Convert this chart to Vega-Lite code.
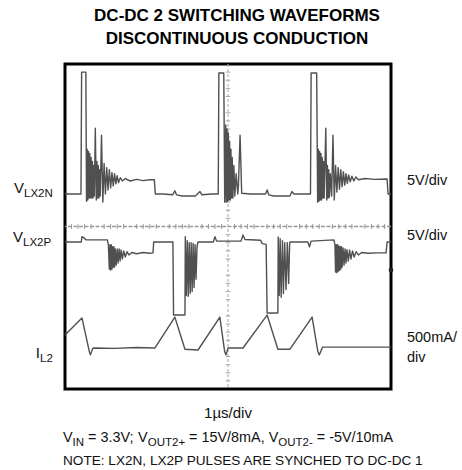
{
  "$schema": "https://vega.github.io/schema/vega-lite/v6.json",
  "width": 326,
  "height": 325,
  "autosize": {"type": "none"},
  "padding": {"left": 65, "top": 64, "right": 71, "bottom": 81},
  "background": "white",
  "title": {
    "text": ["DC-DC 2 SWITCHING WAVEFORMS", "DISCONTINUOUS CONDUCTION"],
    "font": "Liberation Sans",
    "fontSize": 17,
    "fontWeight": "bold",
    "color": "black",
    "anchor": "middle",
    "dx": 9,
    "offset": 15,
    "lineHeight": 23
  },
  "config": {
    "view": {"stroke": "black", "strokeWidth": 3},
    "text": {"font": "Liberation Sans", "color": "#111", "baseline": "alphabetic"}
  },
  "datasets": {
    "lx2n": [
      {"t":0,"v":4.8},{"t":0.49,"v":4.8},{"t":0.51,"v":7.8},{"t":0.64,"v":7.8},{"t":0.66,"v":4.62},
      {"t":0.68,"v":5.9},{"t":0.70,"v":4.65},{"t":0.72,"v":5.85},{"t":0.74,"v":4.7},{"t":0.76,"v":5.8},{"t":0.78,"v":4.7},{"t":0.80,"v":5.7},{"t":0.82,"v":4.7},{"t":0.84,"v":5.6},{"t":0.86,"v":4.7},{"t":0.88,"v":5.5},{"t":0.90,"v":4.75},
      {"t":0.93,"v":6.42},{"t":0.96,"v":4.65},
      {"t":0.98,"v":5.6},{"t":1.0,"v":4.7},{"t":1.02,"v":5.5},{"t":1.04,"v":4.7},{"t":1.06,"v":5.4},{"t":1.08,"v":4.75},
      {"t":1.12,"v":6.25},{"t":1.16,"v":4.6},
      {"t":1.20,"v":5.55},{"t":1.24,"v":4.8},{"t":1.28,"v":5.45},{"t":1.32,"v":4.9},{"t":1.36,"v":5.4},{"t":1.40,"v":4.95},{"t":1.44,"v":5.33},{"t":1.48,"v":5.0},{"t":1.52,"v":5.3},{"t":1.56,"v":5.05},{"t":1.60,"v":5.25},{"t":1.64,"v":5.08},{"t":1.70,"v":5.2},{"t":1.76,"v":5.12},{"t":1.85,"v":5.18},{"t":2.0,"v":5.12},{"t":2.2,"v":5.16},{"t":2.4,"v":5.13},{"t":2.6,"v":5.15},{"t":2.74,"v":5.15},{"t":2.77,"v":4.8},
      {"t":3.0,"v":4.8},{"t":3.3,"v":4.78},{"t":3.37,"v":4.88},{"t":3.42,"v":4.78},{"t":3.6,"v":4.75},{"t":4.0,"v":4.75},{"t":4.14,"v":4.86},{"t":4.2,"v":4.78},{"t":4.5,"v":4.8},{"t":4.7,"v":4.8},
      {"t":4.72,"v":7.78},{"t":4.87,"v":7.78},{"t":4.9,"v":4.6},
      {"t":4.93,"v":6.5},{"t":4.95,"v":4.6},{"t":4.97,"v":6.4},{"t":4.99,"v":4.62},{"t":5.01,"v":6.3},{"t":5.03,"v":4.65},{"t":5.05,"v":6.1},{"t":5.07,"v":4.65},{"t":5.09,"v":5.9},{"t":5.11,"v":4.7},{"t":5.13,"v":5.7},{"t":5.15,"v":4.7},{"t":5.18,"v":5.5},{"t":5.21,"v":4.75},{"t":5.25,"v":5.3},{"t":5.3,"v":4.8},{"t":5.32,"v":5.0},{"t":5.37,"v":6.25},{"t":5.42,"v":4.82},
      {"t":5.7,"v":4.8},{"t":6.15,"v":4.8},{"t":6.2,"v":4.9},{"t":6.25,"v":4.78},{"t":6.4,"v":4.75},{"t":6.9,"v":4.75},{"t":6.96,"v":4.86},{"t":7.02,"v":4.8},{"t":7.53,"v":4.8},
      {"t":7.55,"v":7.78},{"t":7.72,"v":7.78},{"t":7.75,"v":4.6},
      {"t":7.77,"v":5.9},{"t":7.79,"v":4.62},{"t":7.81,"v":5.85},{"t":7.83,"v":4.65},{"t":7.85,"v":5.8},{"t":7.87,"v":4.65},{"t":7.89,"v":5.7},{"t":7.91,"v":4.7},{"t":7.93,"v":5.6},{"t":7.95,"v":4.7},{"t":8.0,"v":6.42},{"t":8.03,"v":4.65},{"t":8.05,"v":5.5},{"t":8.07,"v":4.7},{"t":8.09,"v":5.4},{"t":8.11,"v":4.72},{"t":8.14,"v":5.3},{"t":8.18,"v":4.75},{"t":8.22,"v":6.25},{"t":8.26,"v":4.65},
      {"t":8.3,"v":5.5},{"t":8.34,"v":4.85},{"t":8.38,"v":5.45},{"t":8.42,"v":4.92},{"t":8.46,"v":5.4},{"t":8.5,"v":4.98},{"t":8.54,"v":5.35},{"t":8.58,"v":5.02},{"t":8.62,"v":5.3},{"t":8.66,"v":5.06},{"t":8.7,"v":5.27},{"t":8.75,"v":5.1},{"t":8.8,"v":5.24},{"t":8.86,"v":5.12},{"t":8.92,"v":5.22},{"t":9.0,"v":5.15},{"t":9.2,"v":5.18},{"t":9.5,"v":5.16},{"t":9.88,"v":5.17},{"t":9.91,"v":4.8},{"t":10,"v":4.8}
    ],
    "lx2p": [
      {"t":0,"v":3.62},{"t":0.5,"v":3.62},{"t":0.52,"v":3.75},{"t":0.58,"v":3.72},{"t":0.65,"v":3.67},{"t":1.3,"v":3.67},{"t":1.33,"v":3.55},
      {"t":1.36,"v":2.95},{"t":1.38,"v":3.55},{"t":1.40,"v":2.93},{"t":1.42,"v":3.55},{"t":1.44,"v":2.95},{"t":1.46,"v":3.5},{"t":1.48,"v":3.0},{"t":1.50,"v":3.5},{"t":1.52,"v":3.0},{"t":1.54,"v":3.45},{"t":1.57,"v":3.05},{"t":1.60,"v":3.45},{"t":1.63,"v":3.1},{"t":1.66,"v":3.45},{"t":1.69,"v":3.15},{"t":1.72,"v":3.42},{"t":1.76,"v":3.2},{"t":1.80,"v":3.4},{"t":1.85,"v":3.25},{"t":1.90,"v":3.38},{"t":1.96,"v":3.3},{"t":2.05,"v":3.36},{"t":2.2,"v":3.33},{"t":2.4,"v":3.36},{"t":2.6,"v":3.34},{"t":2.70,"v":3.35},{"t":2.72,"v":3.62},
      {"t":3.31,"v":3.62},{"t":3.33,"v":1.82},{"t":3.68,"v":1.82},
      {"t":3.69,"v":3.75},{"t":3.72,"v":2.3},{"t":3.75,"v":3.65},{"t":3.78,"v":2.28},{"t":3.81,"v":3.6},{"t":3.84,"v":2.35},{"t":3.87,"v":3.6},{"t":3.9,"v":2.4},{"t":3.93,"v":3.58},{"t":3.96,"v":2.5},{"t":3.99,"v":3.55},{"t":4.02,"v":2.7},{"t":4.05,"v":3.5},{"t":4.08,"v":3.62},
      {"t":4.55,"v":3.62},{"t":4.6,"v":3.75},{"t":4.65,"v":3.64},{"t":5.4,"v":3.64},{"t":5.46,"v":3.79},{"t":5.52,"v":3.68},{"t":6.0,"v":3.66},{"t":6.05,"v":3.58},{"t":6.17,"v":3.56},{"t":6.2,"v":1.87},{"t":6.53,"v":1.87},
      {"t":6.54,"v":3.74},{"t":6.57,"v":2.3},{"t":6.6,"v":3.7},{"t":6.63,"v":2.26},{"t":6.67,"v":3.65},{"t":6.7,"v":2.35},{"t":6.74,"v":3.6},{"t":6.78,"v":2.45},{"t":6.82,"v":3.6},{"t":6.86,"v":2.6},{"t":6.89,"v":3.55},{"t":6.9,"v":3.62},
      {"t":7.45,"v":3.62},{"t":7.5,"v":3.5},{"t":7.55,"v":3.64},{"t":8.25,"v":3.67},{"t":8.28,"v":3.55},
      {"t":8.30,"v":2.88},{"t":8.32,"v":3.55},{"t":8.34,"v":2.86},{"t":8.36,"v":3.55},{"t":8.38,"v":2.9},{"t":8.40,"v":3.52},{"t":8.42,"v":2.92},{"t":8.44,"v":3.5},{"t":8.46,"v":2.95},{"t":8.48,"v":3.5},{"t":8.50,"v":3.0},{"t":8.53,"v":3.47},{"t":8.56,"v":3.05},{"t":8.59,"v":3.45},{"t":8.62,"v":3.1},{"t":8.65,"v":3.43},{"t":8.69,"v":3.15},{"t":8.73,"v":3.42},{"t":8.77,"v":3.2},{"t":8.82,"v":3.4},{"t":8.87,"v":3.25},{"t":8.93,"v":3.38},{"t":9.0,"v":3.3},{"t":9.1,"v":3.36},{"t":9.3,"v":3.34},{"t":9.6,"v":3.35},{"t":9.85,"v":3.35},{"t":9.88,"v":3.62},{"t":10,"v":3.62}
    ],
    "il2": [
      {"t":0,"v":1.33},{"t":0.52,"v":1.75},{"t":0.75,"v":0.91},{"t":0.78,"v":0.84},{"t":0.85,"v":1.0},{"t":0.9,"v":1.01},{"t":1.5,"v":1.0},{"t":2.2,"v":1.02},{"t":2.76,"v":1.01},{"t":3.37,"v":1.77},{"t":3.68,"v":0.98},{"t":4.08,"v":0.96},{"t":4.75,"v":1.77},{"t":4.9,"v":0.91},{"t":4.94,"v":0.84},{"t":5.0,"v":1.01},{"t":5.46,"v":1.01},{"t":6.2,"v":1.82},{"t":6.53,"v":0.98},{"t":6.9,"v":0.98},{"t":7.58,"v":1.77},{"t":7.76,"v":0.91},{"t":7.8,"v":0.84},{"t":7.9,"v":1.03},{"t":10,"v":1.03}
    ],
    "hticks": [
      {"t":0.2},{"t":0.4},{"t":0.6},{"t":0.8},{"t":1.2},{"t":1.4},{"t":1.6},{"t":1.8},{"t":2.2},{"t":2.4},{"t":2.6},{"t":2.8},{"t":3.2},{"t":3.4},{"t":3.6},{"t":3.8},{"t":4.2},{"t":4.4},{"t":4.6},{"t":4.8},
      {"t":5.2},{"t":5.4},{"t":5.6},{"t":5.8},{"t":6.2},{"t":6.4},{"t":6.6},{"t":6.8},{"t":7.2},{"t":7.4},{"t":7.6},{"t":7.8},{"t":8.2},{"t":8.4},{"t":8.6},{"t":8.8},{"t":9.2},{"t":9.4},{"t":9.6},{"t":9.8}
    ],
    "vticks": [
      {"v":0.2},{"v":0.4},{"v":0.6},{"v":0.8},{"v":1.2},{"v":1.4},{"v":1.6},{"v":1.8},{"v":2.2},{"v":2.4},{"v":2.6},{"v":2.8},{"v":3.2},{"v":3.4},{"v":3.6},{"v":3.8},
      {"v":4.2},{"v":4.4},{"v":4.6},{"v":4.8},{"v":5.2},{"v":5.4},{"v":5.6},{"v":5.8},{"v":6.2},{"v":6.4},{"v":6.6},{"v":6.8},{"v":7.2},{"v":7.4},{"v":7.6},{"v":7.8}
    ],
    "centre": [{"t":5,"v":4}],
    "marker": [{"t":10,"v":2.93}],
    "textRightSide": [
      {"t":10.49,"v":5.02,"text":"5V/div"},
      {"t":10.49,"v":3.67,"text":"5V/div"},
      {"t":10.49,"v":1.16,"text":"500mA/"},
      {"t":10.49,"v":0.66,"text":"div"}
    ],
    "textNote": [
      {"t":-0.06,"v":-1.87,"text":"NOTE: LX2N, LX2P PULSES ARE SYNCHED TO DC-DC 1"}
    ],
    "textCond": [
      {"t":-0.061,"v":-1.305,"text":"V"},
      {"t":0.709,"v":-1.305,"text":"= 3.3V;"},
      {"t":2.242,"v":-1.305,"text":"V"},
      {"t":3.807,"v":-1.305,"text":"= 15V/8mA,"},
      {"t":6.248,"v":-1.305,"text":"V"},
      {"t":7.724,"v":-1.305,"text":"= -5V/10mA"}
    ],
    "textChan": [
      {"t":-1.258,"v":4.82,"text":"V"},
      {"t":-1.288,"v":3.62,"text":"V"},
      {"t":-0.767,"v":0.76,"text":"I"}
    ],
    "textSub": [
      {"t":-1.258,"v":4.82,"text":"LX2N"},
      {"t":-1.288,"v":3.62,"text":"LX2P"},
      {"t":-0.767,"v":0.76,"text":"L2"},
      {"t":0.233,"v":-1.305,"text":"IN"},
      {"t":2.537,"v":-1.305,"text":"OUT2+"},
      {"t":6.543,"v":-1.305,"text":"OUT2-"}
    ],
    "textCenter": [
      {"t":5.0,"v":-0.714,"text":"1µs/div"}
    ]
  },
  "layer": [
    {
      "data": {"name": "hticks"},
      "mark": {"type": "rule", "color": "#999", "strokeWidth": 1},
      "encoding": {
        "x": {"field": "t", "type": "quantitative", "scale": {"domain": [0, 10], "nice": false, "zero": false},
          "axis": {"title": null, "values": [0,1,2,3,4,5,6,7,8,9,10], "grid": true, "gridColor": "#b8b8b8", "gridDash": [2, 3], "gridWidth": 1, "labels": false, "ticks": false, "domain": false}},
        "y": {"datum": 3.94, "type": "quantitative", "scale": {"domain": [0, 8], "nice": false, "zero": false},
          "axis": {"title": null, "values": [0,1,2,3,4,5,6,7,8], "grid": true, "gridColor": "#b8b8b8", "gridDash": [2, 3], "gridWidth": 1, "labels": false, "ticks": false, "domain": false}},
        "y2": {"datum": 4.06}
      }
    },
    {
      "data": {"name": "vticks"},
      "mark": {"type": "rule", "color": "#aaa", "strokeWidth": 1},
      "encoding": {
        "y": {"field": "v", "type": "quantitative", "axis": null},
        "x": {"datum": 4.93, "type": "quantitative", "axis": null},
        "x2": {"datum": 5.07}
      }
    },
    {
      "data": {"name": "centre"},
      "mark": {"type": "rule", "color": "#999", "strokeWidth": 1.4, "strokeDash": [4, 1.5]},
      "encoding": {"y": {"field": "v", "type": "quantitative", "axis": null}}
    },
    {
      "data": {"name": "centre"},
      "mark": {"type": "rule", "color": "#b0b0b0", "strokeWidth": 1.1, "strokeDash": [3, 2]},
      "encoding": {"x": {"field": "t", "type": "quantitative", "axis": null}}
    },
    {
      "data": {"name": "lx2n"},
      "mark": {"type": "line", "color": "#505050", "strokeWidth": 1.4, "strokeJoin": "round"},
      "encoding": {
        "x": {"field": "t", "type": "quantitative", "axis": null},
        "y": {"field": "v", "type": "quantitative", "axis": null}
      }
    },
    {
      "data": {"name": "lx2p"},
      "mark": {"type": "line", "color": "#505050", "strokeWidth": 1.4, "strokeJoin": "round"},
      "encoding": {
        "x": {"field": "t", "type": "quantitative", "axis": null},
        "y": {"field": "v", "type": "quantitative", "axis": null}
      }
    },
    {
      "data": {"name": "il2"},
      "mark": {"type": "line", "color": "#505050", "strokeWidth": 1.4, "strokeJoin": "round"},
      "encoding": {
        "x": {"field": "t", "type": "quantitative", "axis": null},
        "y": {"field": "v", "type": "quantitative", "axis": null}
      }
    },
    {
      "data": {"name": "marker"},
      "mark": {"type": "point", "filled": true, "color": "#222", "size": 22, "opacity": 1},
      "encoding": {
        "x": {"field": "t", "type": "quantitative", "axis": null},
        "y": {"field": "v", "type": "quantitative", "axis": null}
      }
    },
    {
      "data": {"name": "textRightSide"},
      "mark": {"type": "text", "align": "left", "fontSize": 14.5},
      "encoding": {
        "x": {"field": "t", "type": "quantitative", "axis": null},
        "y": {"field": "v", "type": "quantitative", "axis": null},
        "text": {"field": "text"}
      }
    },
    {
      "data": {"name": "textNote"},
      "mark": {"type": "text", "align": "left", "fontSize": 13.6},
      "encoding": {
        "x": {"field": "t", "type": "quantitative", "axis": null},
        "y": {"field": "v", "type": "quantitative", "axis": null},
        "text": {"field": "text"}
      }
    },
    {
      "data": {"name": "textCond"},
      "mark": {"type": "text", "align": "left", "fontSize": 14.4},
      "encoding": {
        "x": {"field": "t", "type": "quantitative", "axis": null},
        "y": {"field": "v", "type": "quantitative", "axis": null},
        "text": {"field": "text"}
      }
    },
    {
      "data": {"name": "textChan"},
      "mark": {"type": "text", "align": "right", "fontSize": 15},
      "encoding": {
        "x": {"field": "t", "type": "quantitative", "axis": null},
        "y": {"field": "v", "type": "quantitative", "axis": null},
        "text": {"field": "text"}
      }
    },
    {
      "data": {"name": "textSub"},
      "mark": {"type": "text", "align": "left", "fontSize": 11.5, "dy": 4},
      "encoding": {
        "x": {"field": "t", "type": "quantitative", "axis": null},
        "y": {"field": "v", "type": "quantitative", "axis": null},
        "text": {"field": "text"}
      }
    },
    {
      "data": {"name": "textCenter"},
      "mark": {"type": "text", "align": "center", "fontSize": 15},
      "encoding": {
        "x": {"field": "t", "type": "quantitative", "axis": null},
        "y": {"field": "v", "type": "quantitative", "axis": null},
        "text": {"field": "text"}
      }
    }
  ]
}
